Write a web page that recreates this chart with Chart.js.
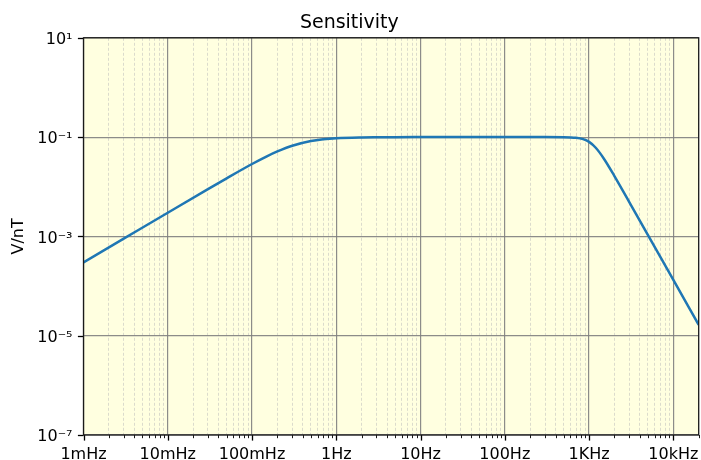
<!DOCTYPE html>
<html>
<head>
<meta charset="utf-8">
<script src="https://cdn.jsdelivr.net/npm/chart.js@4/dist/chart.umd.min.js"></script>
<style>
  html, body { margin: 0; padding: 0; background: #fff; }
  #wrap { width: 701px; height: 460px; }
</style>
</head>
<body>
<div id="wrap"><canvas id="sensChart" width="701" height="460"></canvas></div>
<script>
// values
const freqHz = [0.001, 0.003, 0.01, 0.03, 0.05, 0.1, 0.15, 0.2, 0.3, 0.5, 0.7, 1, 2, 3, 5, 10,
    100, 300, 500, 700, 850, 1000, 1200, 1500, 2000, 3000, 5000, 10000, 20000];
const sensitivity = [3.0e-4, 9.0e-4, 3.0e-3, 8.96e-3, 0.0148, 0.0287, 0.041, 0.0514, 0.0669, 0.0832, 0.0903, 0.0949, 0.0986, 0.0994, 0.0998, 0.0999,
    0.1, 0.1, 0.0996, 0.0968, 0.0908, 0.080, 0.061, 0.0367, 0.0164, 0.00492, 1.06e-3, 1.33e-4, 1.66e-5];

const xMajorTicks = [1e-3, 1e-2, 1e-1, 1, 10, 100, 1e3, 1e4];
const xTickLabels = ["1mHz", "10mHz", "100mHz", "1Hz", "10Hz", "100Hz", "1KHz", "10kHz"];
const yTicks = [1e-7, 1e-5, 1e-3, 1e-1, 1e1];
const yTickLabels = ["10\u207B\u2077", "10\u207B\u2075", "10\u207B\u00B3", "10\u207B\u00B9", "10\u00B9"];

const X_MIN = 1e-3, X_MAX = 2e4;

Chart.defaults.font.family = "'DejaVu Sans', sans-serif";
Chart.defaults.color = "#000";

function isMajor(v) {
    const l = Math.log10(v);
    return Math.abs(l - Math.round(l)) < 1e-9;
}

// all decade ticks plus 2..9 minor ticks
function xTickValues() {
    const out = [];
    for (const d of xMajorTicks) {
        for (let m = 1; m <= 9; m++) {
            const v = m * d;
            if (v <= X_MAX * 1.0001) out.push(v);
        }
    }
    return out;
}

const framePlugin = {
    id: "frame",
    beforeDraw(chart) {
        const { ctx, chartArea: a } = chart;
        ctx.save();
        ctx.fillStyle = "#ffffe0";
        ctx.fillRect(a.left, a.top, a.right - a.left, a.bottom - a.top);
        ctx.restore();
    },
    afterDraw(chart) {
        const { ctx, chartArea: a } = chart;
        const xs = chart.scales.x, ys = chart.scales.y;
        ctx.save();
        ctx.strokeStyle = "#000";
        // x ticks
        xs.ticks.forEach(t => {
            const px = Math.round(xs.getPixelForValue(t.value)) + 0.5;
            const maj = isMajor(t.value);
            ctx.lineWidth = maj ? 1.3 : 0.9;
            ctx.beginPath();
            ctx.moveTo(px, a.bottom);
            ctx.lineTo(px, a.bottom + (maj ? 5.6 : 3.2));
            ctx.stroke();
        });
        // y ticks
        ys.ticks.forEach(t => {
            const py = Math.round(ys.getPixelForValue(t.value)) + 0.5;
            ctx.lineWidth = 1.3;
            ctx.beginPath();
            ctx.moveTo(a.left, py);
            ctx.lineTo(a.left - 5.6, py);
            ctx.stroke();
        });
        // spines
        ctx.lineWidth = 1.3;
        ctx.strokeStyle = "#1a1a1a";
        ctx.strokeRect(a.left, a.top, a.right - a.left, a.bottom - a.top);
        ctx.restore();
    }
};

const ctx = document.getElementById("sensChart").getContext("2d");
new Chart(ctx, {
    type: "line",
    data: {
        datasets: [{
            label: "Sensitivity",
            data: freqHz.map((f, i) => ({ x: f, y: sensitivity[i] })),
            borderColor: "#1f77b4",
            borderWidth: 2.5,
            pointRadius: 0,
            fill: false,
            cubicInterpolationMode: "monotone"
        }]
    },
    options: {
        responsive: false,
        animation: false,
        layout: { padding: { left: 0, right: 2.3, top: 0, bottom: 0 } },
        plugins: {
            legend: { display: false },
            tooltip: { enabled: false },
            title: {
                display: true,
                text: "Sensitivity",
                color: "#000",
                font: { size: 19, weight: "normal" },
                padding: { top: 11.5, bottom: 3.5 }
            }
        },
        scales: {
            x: {
                type: "logarithmic",
                min: X_MIN,
                max: X_MAX,
                afterBuildTicks: s => { s.ticks = xTickValues().map(v => ({ value: v })); },
                afterFit: s => { s.height = 25; s.paddingLeft = 0; s.paddingRight = 0; },
                ticks: {
                    autoSkip: false,
                    maxRotation: 0,
                    padding: 10,
                    font: { size: 16 },
                    callback: v => {
                        const i = xMajorTicks.findIndex(m => Math.abs(m - v) / m < 1e-6);
                        return i >= 0 ? xTickLabels[i] : "";
                    }
                },
                grid: {
                    drawTicks: false,
                    color: c => (c.tick && isMajor(c.tick.value)) ? "rgba(128,128,128,0.9)" : "rgba(195,195,190,0.75)",
                    lineWidth: c => (c.tick && isMajor(c.tick.value)) ? 1.2 : 0.8
                },
                border: {
                    display: false,
                    dash: c => (c.tick && !isMajor(c.tick.value)) ? [3, 2] : []
                }
            },
            y: {
                type: "logarithmic",
                min: 1e-7,
                max: 10,
                afterBuildTicks: s => { s.ticks = yTicks.map(v => ({ value: v })); },
                afterFit: s => { s.width = 83.5; s.paddingTop = 0; s.paddingBottom = 0; },
                title: {
                    display: true,
                    text: "V/nT",
                    color: "#000",
                    font: { size: 16 },
                    padding: { top: 9, bottom: 0 }
                },
                ticks: {
                    autoSkip: false,
                    padding: 11,
                    labelOffset: 2,
                    font: { size: 16 },
                    callback: v => {
                        const i = yTicks.findIndex(m => Math.abs(m - v) / m < 1e-6);
                        return i >= 0 ? yTickLabels[i] : "";
                    }
                },
                grid: {
                    drawTicks: false,
                    color: "rgba(128,128,128,0.9)",
                    lineWidth: 1.2
                },
                border: { display: false }
            }
        }
    },
    plugins: [framePlugin]
});
</script>
</body>
</html>
